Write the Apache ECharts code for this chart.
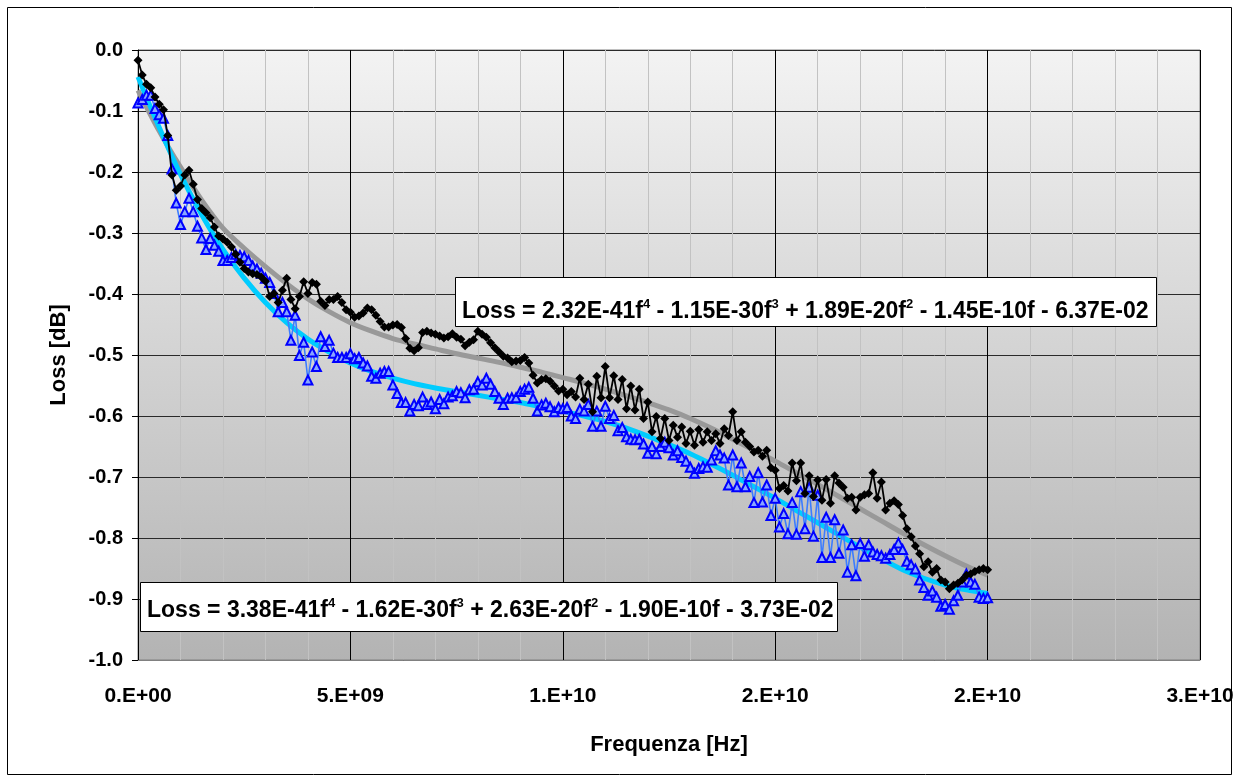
<!DOCTYPE html>
<html><head><meta charset="utf-8">
<script src="https://cdn.jsdelivr.net/npm/echarts@6/dist/echarts.min.js"></script>
<style>html,body{margin:0;padding:0;background:#fff}#c{width:1239px;height:782px}</style>
</head><body><div id="c"></div><script>
// Frequency samples in GHz (converted to Hz when building the series)
const freqGHz = [
0,0.1,0.2,0.3,0.4,0.5,0.6,0.7,0.8,0.9,
1,1.1,1.2,1.3,1.4,1.5,1.6,1.7,1.8,1.9,
2,2.1,2.2,2.3,2.4,2.5,2.6,2.7,2.8,2.9,
3,3.1,3.2,3.3,3.4,3.5,3.6,3.7,3.8,3.9,
4,4.1,4.2,4.3,4.4,4.5,4.6,4.7,4.8,4.9,
5,5.1,5.2,5.3,5.4,5.5,5.6,5.7,5.8,5.9,
6,6.1,6.2,6.3,6.4,6.5,6.6,6.7,6.8,6.9,
7,7.1,7.2,7.3,7.4,7.5,7.6,7.7,7.8,7.9,
8,8.1,8.2,8.3,8.4,8.5,8.6,8.7,8.8,8.9,
9,9.1,9.2,9.3,9.4,9.5,9.6,9.7,9.8,9.9,
10,10.1,10.2,10.3,10.4,10.5,10.6,10.7,10.8,10.9,
11,11.1,11.2,11.3,11.4,11.5,11.6,11.7,11.8,11.9,
12,12.1,12.2,12.3,12.4,12.5,12.6,12.7,12.8,12.9,
13,13.1,13.2,13.3,13.4,13.5,13.6,13.7,13.8,13.9,
14,14.1,14.2,14.3,14.4,14.5,14.6,14.7,14.8,14.9,
15,15.1,15.2,15.3,15.4,15.5,15.6,15.7,15.8,15.9,
16,16.1,16.2,16.3,16.4,16.5,16.6,16.7,16.8,16.9,
17,17.1,17.2,17.3,17.4,17.5,17.6,17.7,17.8,17.9,
18,18.1,18.2,18.3,18.4,18.5,18.6,18.7,18.8,18.9,
19,19.1,19.2,19.3,19.4,19.5,19.6,19.7,19.8,19.9,
20];
// Measured loss, black series (diamonds)
const lossBlack = [
-0.017,-0.041,-0.056,-0.062,-0.077,-0.089,-0.098,-0.140,-0.205,-0.230,
-0.223,-0.205,-0.197,-0.220,-0.245,-0.260,-0.267,-0.275,-0.290,-0.305,
-0.310,-0.315,-0.323,-0.335,-0.348,-0.358,-0.364,-0.367,-0.368,-0.372,
-0.379,-0.404,-0.399,-0.414,-0.394,-0.374,-0.409,-0.424,-0.404,-0.380,
-0.399,-0.381,-0.384,-0.412,-0.419,-0.409,-0.409,-0.404,-0.414,-0.426,
-0.430,-0.438,-0.436,-0.431,-0.423,-0.426,-0.435,-0.445,-0.454,-0.454,
-0.451,-0.450,-0.455,-0.473,-0.489,-0.493,-0.488,-0.463,-0.461,-0.464,
-0.466,-0.469,-0.472,-0.470,-0.465,-0.471,-0.474,-0.485,-0.479,-0.475,
-0.461,-0.466,-0.471,-0.480,-0.488,-0.495,-0.502,-0.505,-0.511,-0.510,
-0.509,-0.504,-0.513,-0.533,-0.546,-0.540,-0.539,-0.543,-0.551,-0.559,
-0.556,-0.565,-0.560,-0.569,-0.538,-0.573,-0.548,-0.593,-0.535,-0.570,
-0.519,-0.570,-0.534,-0.573,-0.540,-0.588,-0.551,-0.590,-0.556,-0.604,
-0.577,-0.626,-0.601,-0.637,-0.604,-0.640,-0.615,-0.635,-0.618,-0.645,
-0.625,-0.648,-0.622,-0.643,-0.626,-0.640,-0.629,-0.645,-0.621,-0.632,
-0.593,-0.640,-0.626,-0.643,-0.650,-0.659,-0.656,-0.666,-0.656,-0.685,
-0.689,-0.719,-0.714,-0.723,-0.677,-0.706,-0.677,-0.727,-0.698,-0.732,
-0.705,-0.738,-0.704,-0.743,-0.698,-0.710,-0.717,-0.735,-0.733,-0.754,
-0.733,-0.729,-0.727,-0.693,-0.735,-0.708,-0.754,-0.743,-0.739,-0.745,
-0.763,-0.785,-0.798,-0.813,-0.826,-0.847,-0.839,-0.856,-0.850,-0.869,
-0.872,-0.883,-0.877,-0.874,-0.869,-0.861,-0.859,-0.855,-0.852,-0.850,
-0.852];
// Measured loss, blue series (triangles)
const lossBlue = [
-0.087,-0.081,-0.074,-0.074,-0.096,-0.106,-0.112,-0.140,-0.195,-0.251,
-0.286,-0.265,-0.243,-0.265,-0.289,-0.308,-0.327,-0.309,-0.320,-0.330,
-0.345,-0.345,-0.340,-0.335,-0.337,-0.339,-0.345,-0.354,-0.359,-0.366,
-0.374,-0.381,-0.399,-0.429,-0.414,-0.429,-0.476,-0.435,-0.501,-0.479,
-0.541,-0.495,-0.519,-0.470,-0.486,-0.476,-0.497,-0.504,-0.504,-0.504,
-0.498,-0.506,-0.504,-0.513,-0.518,-0.535,-0.538,-0.530,-0.527,-0.527,
-0.549,-0.563,-0.578,-0.578,-0.592,-0.581,-0.583,-0.569,-0.581,-0.577,
-0.588,-0.573,-0.580,-0.569,-0.567,-0.560,-0.562,-0.570,-0.557,-0.556,
-0.544,-0.549,-0.538,-0.548,-0.560,-0.571,-0.581,-0.571,-0.570,-0.570,
-0.560,-0.556,-0.553,-0.571,-0.592,-0.582,-0.579,-0.585,-0.593,-0.586,
-0.588,-0.586,-0.600,-0.604,-0.589,-0.592,-0.581,-0.617,-0.592,-0.617,
-0.584,-0.604,-0.599,-0.624,-0.619,-0.634,-0.638,-0.639,-0.638,-0.646,
-0.661,-0.650,-0.662,-0.650,-0.643,-0.652,-0.664,-0.657,-0.668,-0.674,
-0.684,-0.694,-0.686,-0.683,-0.684,-0.672,-0.657,-0.664,-0.669,-0.713,
-0.664,-0.716,-0.677,-0.716,-0.699,-0.742,-0.693,-0.741,-0.713,-0.763,
-0.735,-0.782,-0.760,-0.793,-0.742,-0.794,-0.724,-0.785,-0.717,-0.797,
-0.730,-0.832,-0.766,-0.832,-0.770,-0.825,-0.787,-0.856,-0.811,-0.862,
-0.809,-0.830,-0.811,-0.823,-0.827,-0.829,-0.833,-0.827,-0.819,-0.808,
-0.819,-0.838,-0.844,-0.851,-0.869,-0.881,-0.894,-0.887,-0.897,-0.912,
-0.909,-0.917,-0.903,-0.894,-0.872,-0.859,-0.872,-0.876,-0.897,-0.899,
-0.898];
// Trend lines, every 0.5 GHz
const fitFreqGHz = [
0,0.5,1,1.5,2,2.5,3,3.5,4,4.5,5,5.5,6,6.5,7,7.5,8,8.5,9,9.5,
10,10.5,11,11.5,12,12.5,13,13.5,14,14.5,15,15.5,16,16.5,17,17.5,18,18.5,19,19.5,20];
const fitBlack = [
-0.066,-0.133,-0.192,-0.246,-0.292,-0.325,-0.355,-0.383,-0.408,-0.429,
-0.447,-0.461,-0.473,-0.482,-0.490,-0.498,-0.505,-0.512,-0.520,-0.528,
-0.537,-0.546,-0.556,-0.567,-0.578,-0.590,-0.604,-0.620,-0.638,-0.656,
-0.674,-0.693,-0.712,-0.732,-0.752,-0.772,-0.792,-0.811,-0.829,-0.846,
-0.861];
const fitBlue = [
-0.044,-0.127,-0.204,-0.270,-0.327,-0.374,-0.414,-0.447,-0.474,-0.495,
-0.513,-0.527,-0.538,-0.547,-0.554,-0.560,-0.566,-0.572,-0.578,-0.585,
-0.592,-0.600,-0.609,-0.620,-0.633,-0.647,-0.662,-0.679,-0.697,-0.716,
-0.735,-0.755,-0.775,-0.795,-0.815,-0.834,-0.852,-0.866,-0.877,-0.885,
-0.891];
const xTickLabels = ['0.E+00','5.E+09','1.E+10','2.E+10','2.E+10','3.E+10'];
const yTickLabels = ['0.0','-0.1','-0.2','-0.3','-0.4','-0.5','-0.6','-0.7','-0.8','-0.9','-1.0'];
const eqBlack = '{b|Loss = 2.32E-41f}{s|4}{b| - 1.15E-30f}{s|3}{b| + 1.89E-20f}{s|2}{b| - 1.45E-10f - 6.37E-02}';
const eqBlue  = '{b|Loss = 3.38E-41f}{s|4}{b| - 1.62E-30f}{s|3}{b| + 2.63E-20f}{s|2}{b| - 1.90E-10f - 3.73E-02}';

const FONT = "'Liberation Sans', Arial, sans-serif";
const pair = (xs, ys) => xs.map((g, i) => [g * 1e9, ys[i]]);
const richEq = {
  b: {fontFamily: FONT, fontWeight: 'bold', fontSize: 23, lineHeight: 28, color: '#000'},
  s: {fontFamily: FONT, fontWeight: 'bold', fontSize: 13, lineHeight: 14, verticalAlign: 'top', color: '#000'}
};

const chart = echarts.init(document.getElementById('c'), null, {renderer: 'canvas'});
chart.setOption({
  animation: false,
  backgroundColor: '#ffffff',
  grid: {
    left: 138, right: 39, top: 50, bottom: 122, show: true,
    borderColor: '#808080', borderWidth: 1,
    backgroundColor: {type: 'linear', x: 0, y: 0, x2: 0, y2: 1,
      colorStops: [{offset: 0, color: '#f3f3f3'}, {offset: 1, color: '#b3b3b3'}]}
  },
  xAxis: {
    type: 'value', min: 0, max: 25e9, interval: 5e9,
    name: 'Frequenza [Hz]', nameLocation: 'middle', nameGap: 74,
    nameTextStyle: {fontFamily: FONT, fontWeight: 'bold', fontSize: 22, color: '#000'},
    axisLine: {show: true, onZero: false, lineStyle: {color: '#808080', width: 1}},
    axisTick: {show: false},
    axisLabel: {margin: 26, fontFamily: FONT, fontWeight: 'bold', fontSize: 21, color: '#000',
      showMinLabel: true, showMaxLabel: true,
      formatter: v => xTickLabels[Math.round(v / 5e9)]},
    splitLine: {show: true, lineStyle: {color: '#000', width: 1}},
    minorTick: {show: false, splitNumber: 5},
    minorSplitLine: {show: true, lineStyle: {color: '#c2c2c2', width: 1}}
  },
  yAxis: {
    type: 'value', min: -1, max: 0, interval: 0.1,
    name: 'Loss [dB]', nameLocation: 'middle', nameGap: 68, nameRotate: 90,
    nameTextStyle: {fontFamily: FONT, fontWeight: 'bold', fontSize: 22, color: '#000'},
    axisLine: {show: true, onZero: false, lineStyle: {color: '#000', width: 1}},
    axisTick: {show: true, inside: false, length: 6, lineStyle: {color: '#000'}},
    axisLabel: {margin: 15, fontFamily: FONT, fontWeight: 'bold', fontSize: 20, color: '#000',
      formatter: v => yTickLabels[Math.round(-v * 10)]},
    splitLine: {show: true, lineStyle: {color: '#2a2a2a', width: 1}}
  },
  series: [
    {type: 'line', name: 'fitBlack', data: pair(fitFreqGHz, fitBlack), smooth: 0.3, showSymbol: false,
      lineStyle: {color: '#999999', width: 5}, z: 2, silent: true},
    {type: 'line', name: 'fitBlue', data: pair(fitFreqGHz, fitBlue), smooth: 0.3, showSymbol: false,
      lineStyle: {color: '#00ccff', width: 5}, z: 2, silent: true},
    {type: 'line', name: 'blue', data: pair(freqGHz, lossBlue), symbol: 'triangle', symbolSize: 9,
      itemStyle: {color: '#8aa6ff', borderColor: '#0000ff', borderWidth: 2},
      lineStyle: {color: '#3c7cff', width: 1.6}, z: 3},
    {type: 'line', name: 'black', data: pair(freqGHz, lossBlack), symbol: 'diamond', symbolSize: 9,
      itemStyle: {color: '#000000'}, lineStyle: {color: '#000000', width: 1.8}, z: 4}
  ],
  graphic: [
    {type: 'rect', silent: true, z: 100, shape: {x: 7.5, y: 7.5, width: 1224, height: 767},
      style: {fill: 'none', stroke: '#000', lineWidth: 1}},
    {type: 'rect', silent: true, z: 100, shape: {x: 455.5, y: 277.5, width: 701, height: 49},
      style: {fill: '#fff', stroke: '#000', lineWidth: 1}},
    {type: 'text', silent: true, z: 101, x: 462, y: 312,
      style: {text: eqBlack, rich: richEq, align: 'left', verticalAlign: 'middle'}},
    {type: 'rect', silent: true, z: 100, shape: {x: 140.5, y: 582.5, width: 697, height: 49},
      style: {fill: '#fff', stroke: '#000', lineWidth: 1}},
    {type: 'text', silent: true, z: 101, x: 147, y: 611,
      style: {text: eqBlue, rich: richEq, align: 'left', verticalAlign: 'middle'}}
  ]
});
</script></body></html>
